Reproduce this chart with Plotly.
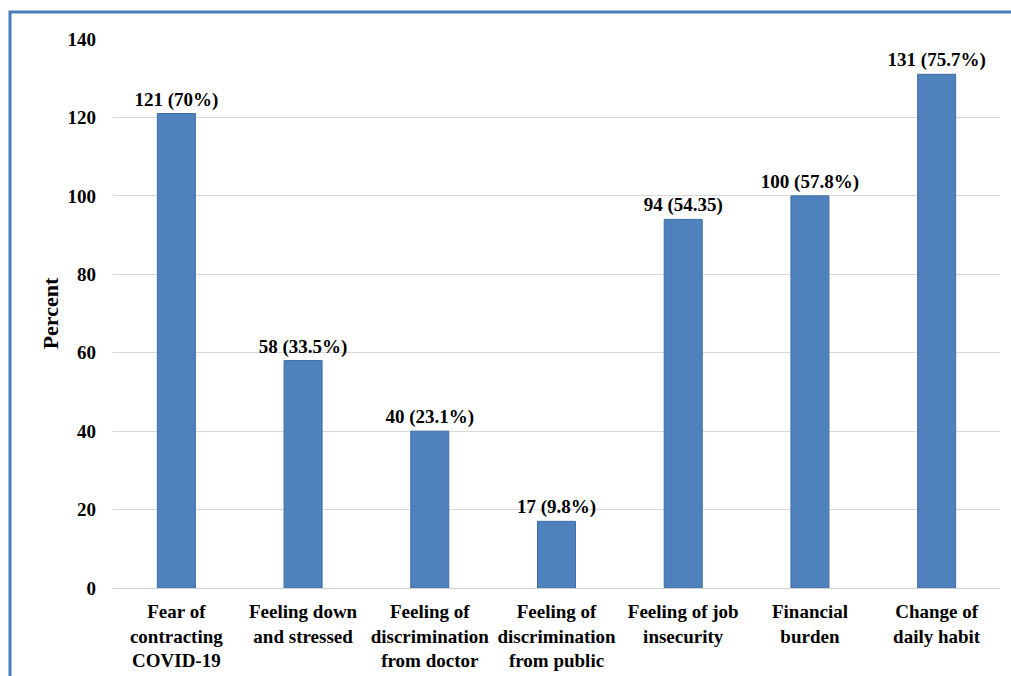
import plotly.graph_objects as go

categories = [
    "Fear of<br>contracting<br>COVID-19",
    "Feeling down<br>and stressed",
    "Feeling of<br>discrimination<br>from doctor",
    "Feeling of<br>discrimination<br>from public",
    "Feeling of job<br>insecurity",
    "Financial<br>burden",
    "Change of<br>daily habit",
]
values = [121, 58, 40, 17, 94, 100, 131]
bar_labels = ["121 (70%)", "58 (33.5%)", "40 (23.1%)", "17 (9.8%)",
              "94 (54.35)", "100 (57.8%)", "131 (75.7%)"]
y_ticks = [0, 20, 40, 60, 80, 100, 120, 140]

W, H = 1011, 676
ML, MR, MT, MB = 113, 11, 39, 88
pw = W - ML - MR
ph = H - MT - MB

font_family = "Liberation Serif"

fig = go.Figure()
fig.add_trace(go.Bar(
    x=categories, y=values,
    text=bar_labels, textposition="outside",
    texttemplate="<b>%{text}</b>",
    textfont=dict(family=font_family, size=19, color="black"),
    constraintext="none",
    marker=dict(color="#4f81bd", line=dict(color="#3d6fa8", width=1)),
    cliponaxis=False,
))

fig.update_layout(
    width=W, height=H,
    margin=dict(l=ML, r=MR, t=MT, b=MB, autoexpand=False),
    plot_bgcolor="white", paper_bgcolor="white",
    bargap=0.7,
    showlegend=False,
    font=dict(family=font_family, color="black"),
    xaxis=dict(
        tickvals=categories, ticktext=["<b>" + c + "</b>" for c in categories],
        tickfont=dict(family=font_family, size=19, color="black"),
        showgrid=False, showline=True, linecolor="#d0d0d0", linewidth=1,
        ticks="", ticklabelstandoff=6, automargin=False,
    ),
    yaxis=dict(
        range=[0, 140], tickvals=y_ticks,
        ticktext=["<b>%d</b>" % v for v in y_ticks],
        tickfont=dict(family=font_family, size=19, color="black"),
        showgrid=True, gridcolor="#d9d9d9", gridwidth=1,
        zeroline=False, showline=False, ticks="",
        ticklabelstandoff=16, automargin=False,
        title=dict(text="<b>Percent</b>", font=dict(family=font_family, size=22, color="black"),
                   standoff=2),
    ),
)

# blue frame around the figure
fig.add_shape(
    type="rect", xref="paper", yref="paper",
    x0=(10 - ML) / pw, x1=(W + 10 - ML) / pw,
    y0=(H - MB + 10 - H) / ph - 0.2, y1=(H - MB - 12) / ph,
    line=dict(color="#4a7ebb", width=3), fillcolor="rgba(0,0,0,0)", layer="below",
)

fig.write_html("out.html")
